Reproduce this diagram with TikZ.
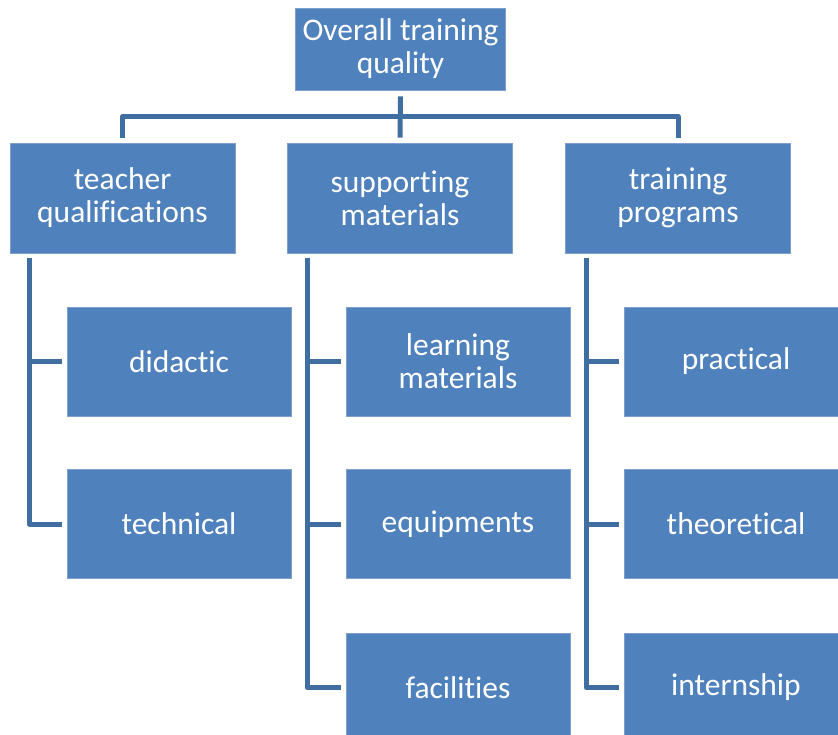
\documentclass[tikz,border=0pt]{standalone}
\usepackage{fontspec}
\setmainfont{Carlito}[RawFeature={-liga;-clig;-dlig}]
\usetikzlibrary{calc}
\definecolor{boxblue}{RGB}{79,129,189}
\definecolor{boxedge}{RGB}{125,160,208}
\definecolor{linkblue}{RGB}{65,110,160}
\tikzset{
  x=1pt, y=-1pt,
  box/.style={fill=boxblue, draw=boxedge, line width=0.8pt, text=white, align=center,
    inner sep=0pt, font=\fontsize{31.5}{33}\selectfont},
  topbox/.style={box, minimum width=210pt, minimum height=82pt},
  lvlone/.style={box, minimum width=225pt, minimum height=110pt},
  lvltwo/.style={box, minimum width=224pt, minimum height=109pt},
  conn/.style={draw=linkblue, line width=5pt, line join=round}
}
\begin{document}
\begin{tikzpicture}
\clip (0,0) rectangle (838,735);
\fill[white] (0,0) rectangle (838,735);
\node[topbox] (top) at (400.5,49) {Overall training\\quality};
\node[lvlone] (teach) at (122.5,198) {teacher\\qualifications};
\node[lvlone] (supp) at (400,198) {supporting\\materials};
\node[lvlone] (train) at (678,198) {training\\programs};
\node[lvltwo] (did) at (179,361.5) {didactic};
\node[lvltwo] (tech) at (179,524) {technical};
\node[lvltwo] (learn) at (458,361.5) {learning\\materials};
\node[lvltwo] (equip) at (458,524) {equipments};
\node[lvltwo] (fac) at (458,687.5) {facilities};
\node[lvltwo] (prac) at (736,361.5) {practical};
\node[lvltwo] (theo) at (736,524) {theoretical};
\node[lvltwo] (intern) at (736,687.5) {internship};
% top connectors
\draw[conn] ([yshift=-6pt]top.south) -- ([yshift=5pt]supp.north);
\draw[conn] ([yshift=5pt]teach.north) -- ++(0,-21) -| ([yshift=5pt]train.north);
% left branch
\coordinate (tv) at ([xshift=20pt,yshift=-5pt]teach.south west);
\draw[conn] (tv) |- ([xshift=-5pt]tech.west);
\draw[conn] (tv |- did.west) -- ([xshift=-5pt]did.west);
% middle branch
\coordinate (sv) at ([xshift=20pt,yshift=-5pt]supp.south west);
\draw[conn] (sv) |- ([xshift=-5pt]fac.west);
\draw[conn] (sv |- learn.west) -- ([xshift=-5pt]learn.west);
\draw[conn] (sv |- equip.west) -- ([xshift=-5pt]equip.west);
% right branch
\coordinate (rv) at ([xshift=21pt,yshift=-5pt]train.south west);
\draw[conn] (rv) |- ([xshift=-5pt]intern.west);
\draw[conn] (rv |- prac.west) -- ([xshift=-5pt]prac.west);
\draw[conn] (rv |- theo.west) -- ([xshift=-5pt]theo.west);
\end{tikzpicture}
\end{document}
